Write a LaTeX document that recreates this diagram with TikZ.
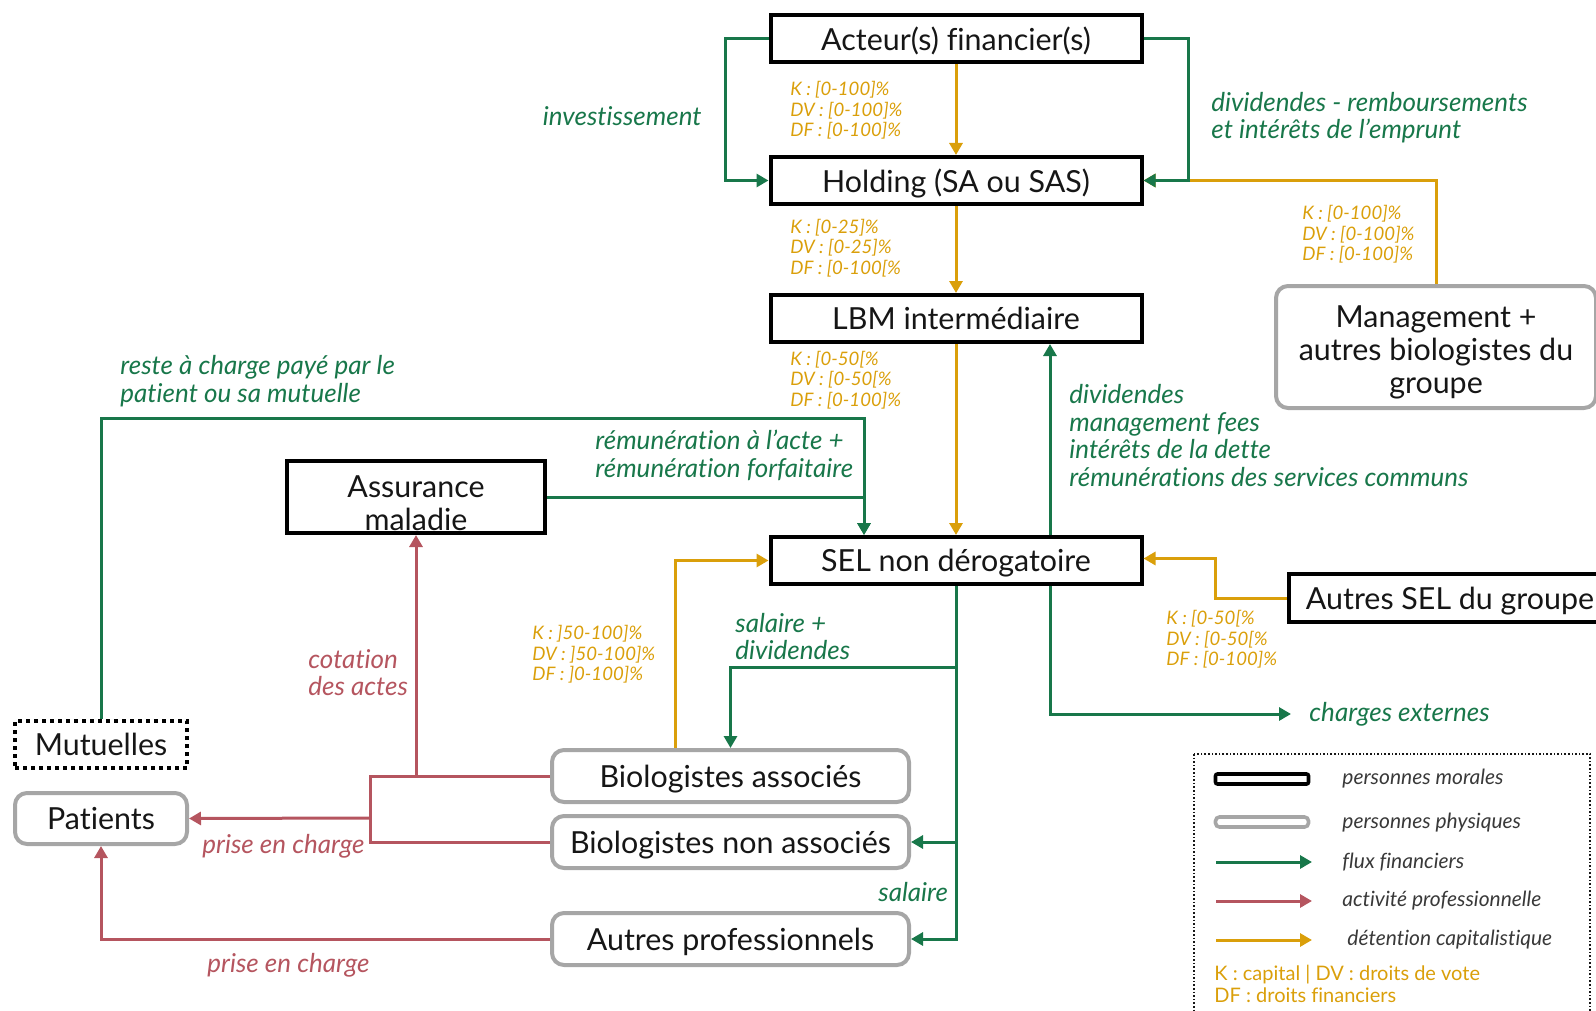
\documentclass[tikz,border=0pt]{standalone}
\usepackage{fontspec}
\setmainfont{Lato}[Ligatures=NoCommon]
\usetikzlibrary{arrows.meta,positioning}

\definecolor{vert}{HTML}{18774A}
\definecolor{rouge}{HTML}{B5555F}
\definecolor{ocre}{HTML}{DA9F0A}
\definecolor{gris}{HTML}{A6A6A6}
\definecolor{encre}{HTML}{161616}

\tikzset{
  boite/.style={fill=white, line width=2pt, inner sep=0pt, align=center, text=encre,
    font=\fontsize{15.2}{16.5}\selectfont},
  morale/.style={boite, draw=black, minimum width=185.5pt, minimum height=23.5pt},
  physique/.style={boite, draw=gris, rounded corners=6pt, minimum width=178.5pt, minimum height=26pt},
  mutuelle/.style={boite, draw=black, dash pattern=on 2pt off 2pt, minimum width=86pt, minimum height=23.5pt},
  uneligne/.style={text depth=0pt},
  fleche/.style={line width=1.5pt, arrows={-Triangle[length=6pt,width=6.5pt]}},
  flux/.style={fleche, draw=vert},
  activite/.style={fleche, draw=rouge},
  detention/.style={fleche, draw=ocre},
  lbl/.style={inner sep=0pt, align=left, font=\itshape\fontsize{13}{13.7}\selectfont},
  lblv/.style={lbl, text=vert},
  lblr/.style={lbl, text=rouge},
  pct/.style={inner sep=0pt, align=left, anchor=west, text=ocre, font=\itshape\fontsize{9.3}{10.3}\selectfont},
  legtxt/.style={inner sep=0pt, anchor=west, text=encre!85, font=\itshape\fontsize{10.5}{12}\selectfont},
  legende/.style={draw=encre, line width=0.8pt, dash pattern=on 0.8pt off 1pt}
}

\begin{document}
\begin{tikzpicture}[x=0.5pt, y=-0.5pt]
  \useasboundingbox (0,0) rectangle (1596,1011);

  % personnes morales / physiques
  \node[morale, uneligne] (acteur) at (956,38.5) {Acteur(s) financier(s)};
  \node[morale, uneligne, below=45.5pt of acteur] (holding) {Holding (SA ou SAS)};
  \node[morale, uneligne, below=43.5pt of holding] (lbm) {LBM intermédiaire};
  \node[morale, uneligne, below=95.5pt of lbm] (sel) {SEL non dérogatoire};
  \node[morale, minimum width=129pt, minimum height=36pt] (assurance) at (416,497) {\rule{0pt}{17pt}Assurance\\maladie};
  \node[physique, minimum width=160pt, minimum height=61pt] (management) at (1436,347) {\rule{0pt}{16pt}Management +\\autres biologistes du\\groupe};
  \node[morale, uneligne, minimum width=161pt, minimum height=24pt] (autresSEL) at (1450,598) {Autres SEL du groupe};
  \node[mutuelle, uneligne] (mutuelles) at (101,744.5) {Mutuelles};
  \node[physique, uneligne, minimum width=86pt, minimum height=25.5pt] (patients) at (101,818.5) {Patients};
  \node[physique, uneligne] (bioA) at (730.5,776) {Biologistes associés};
  \node[physique, uneligne, below=5pt of bioA] (bioN) {Biologistes non associés};
  \node[physique, uneligne, below=20.5pt of bioN] (autresP) {Autres professionnels};

  % detention capitalistique
  \draw[detention] (acteur.south) -- (holding.north);
  \draw[detention] (holding.south) -- (lbm.north);
  \draw[detention] (lbm.south) -- (sel.north);
  \draw[detention] (management.north) |- (holding.east);
  \draw[detention] ([xshift=-27.75pt]bioA.north) |- (sel.west);
  \draw[detention] (autresSEL.west) -- ++(-72,0) |- ([yshift=1pt]sel.east);

  \node[pct] (pctActeur) at (790,110.5) {K : [0-100]\%\\DV : [0-100]\%\\DF : [0-100]\%};
  \node[pct] (pctHolding) at (790,248) {K : [0-25]\%\\DV : [0-25]\%\\DF : [0-100[\%};
  \node[pct] (pctLbm) at (790,380) {K : [0-50[\%\\DV : [0-50[\%\\DF : [0-100]\%};
  \node[pct] (pctManagement) at (1302,234.5) {K : [0-100]\%\\DV : [0-100]\%\\DF : [0-100]\%};
  \node[pct] (pctBioA) at (532,654.5) {K : ]50-100]\%\\DV : ]50-100]\%\\DF : ]0-100]\%};
  \node[pct] (pctAutresSEL) at (1166,639.5) {K : [0-50[\%\\DV : [0-50[\%\\DF : [0-100]\%};

  % flux financiers
  \draw[flux] (acteur.west) -- ++(-43,0) |- (holding.west);
  \draw[flux] (acteur.east) -- ++(45,0) |- (holding.east);
  \draw[flux] ([xshift=47pt]sel.north) -- ([xshift=47pt]lbm.south);
  \draw[flux] (mutuelles.north) -- ++(0,-301) -| ([xshift=-46pt]sel.north);
  \draw[flux] (assurance.east) -| ([xshift=-46pt]sel.north);
  \draw[flux] (sel.south) -- ++(0,81) -| (bioA.north);
  \draw[flux] (sel.south) |- (bioN.east);
  \draw[flux] (sel.south) |- (autresP.east);
  \node[lblv, anchor=west] (charges) at (1309,714) {charges externes};
  \draw[flux] ([xshift=47pt]sel.south) |- ([xshift=-9pt]charges.west);

  \node[lblv, anchor=east] (investLbl) at (702,116) {investissement};
  \node[lblv, anchor=west] (dividLbl) at (1211,117.5) {dividendes - remboursements\\et intérêts de l’emprunt};
  \node[lblv, anchor=west] (servLbl) at (1069,435.5) {dividendes\\management fees\\intérêts de la dette\\rémunérations des services communs};
  \node[lblv, anchor=west] (resteLbl) at (120,381) {reste à charge payé par le\\patient ou sa mutuelle};
  \node[lblv, anchor=west] (remLbl) at (595,455.5) {rémunération à l’acte +\\rémunération forfaitaire};
  \node[lblv, anchor=west] (salDivLbl) at (735,636.5) {salaire +\\dividendes};
  \node[lblv, anchor=west] (salLbl) at (878,892) {salaire};

  % activite professionnelle
  \coordinate (jonction) at (370,818);
  \draw[activite, -] (bioA.west) -- ++(-180,0) |- (bioN.west);
  \draw[activite] (jonction) -- (patients.east);
  \draw[activite] (bioA.west -| assurance.south) -- (assurance.south);
  \draw[activite] (autresP.west) -| (patients.south);

  \node[lblr, anchor=west] (cotLbl) at (308,672.5) {cotation\\des actes};
  \node[lblr, anchor=west] (priseLbl) at (202,846) {prise en charge};
  \node[lblr, anchor=west] (priseLbl2) at (207,965) {prise en charge};

  % legende
  \draw[legende] (1194,754) rectangle (1590,1030);
  \node[morale, minimum width=46.5pt, minimum height=5pt, line width=1.8pt, rounded corners=1pt] (legMorale) at (1262,779) {};
  \node[physique, minimum width=46.5pt, minimum height=5pt, line width=1.8pt, rounded corners=2pt] (legPhysique) at (1262,822) {};
  \node[legtxt] (legMoraleT) at (1342,779) {personnes morales};
  \node[legtxt] (legPhysiqueT) at (1342,823) {personnes physiques};
  \node[legtxt] (legFluxT) at (1342,862) {flux financiers};
  \node[legtxt] (legActiviteT) at (1342,901) {activité professionnelle};
  \node[legtxt] (legDetentionT) at (1347,940) {détention capitalistique};
  \draw[flux] ([xshift=-63pt]legFluxT.west) -- ([xshift=-15pt]legFluxT.west);
  \draw[activite] ([xshift=-63pt]legActiviteT.west) -- ([xshift=-15pt]legActiviteT.west);
  \draw[detention] ([xshift=-65.5pt]legDetentionT.west) -- ([xshift=-17.5pt]legDetentionT.west);
  \node[inner sep=0pt, anchor=west, align=left, text=ocre, font=\fontsize{10}{11}\selectfont] (legCles) at (1214,984) {K : capital | DV : droits de vote\\DF : droits financiers};
\end{tikzpicture}
\end{document}
